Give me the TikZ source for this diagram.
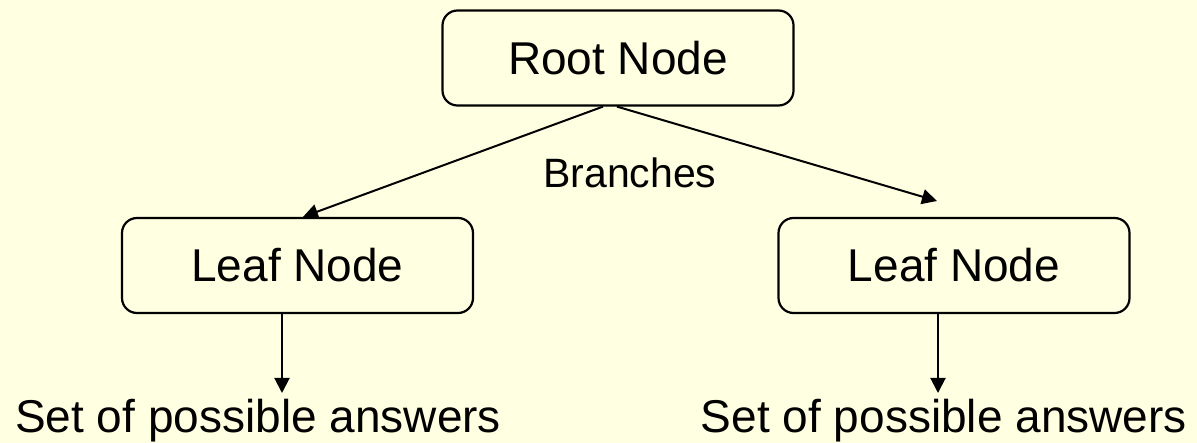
\documentclass[tikz,border=0pt]{standalone}
\usepackage{fontspec}
\setmainfont{Liberation Sans}
\usetikzlibrary{arrows.meta}
\definecolor{paper}{RGB}{255,255,225}
\tikzset{
  nodebox/.style={draw=black, line width=2.2pt, rounded corners=15pt,
    minimum width=351pt, minimum height=95pt, inner sep=0pt,
    font=\fontsize{46}{55}\selectfont},
  bigtext/.style={inner sep=0pt, font=\fontsize{46}{55}\selectfont},
  midtext/.style={inner sep=0pt, font=\fontsize{41}{49}\selectfont},
  link/.style={line width=2pt, -{Triangle[length=15pt,width=15pt]}}
}
\begin{document}
\begin{tikzpicture}[x=1pt,y=-1pt]
  % page and background
  \fill[paper] (0,0) rectangle (1197,443);
  \useasboundingbox (0,0) rectangle (1197,443);

  % tree boxes
  \node[nodebox] (root)  at (618,58)    {Root Node};
  \node[nodebox] (leafL) at (297.5,265.5) {Leaf Node};
  \node[nodebox] (leafR) at (954,265.5) {Leaf Node};

  % labels
  \node[midtext, anchor=base west] (branches) at (543,188) {Branches};
  \node[bigtext, anchor=base west] (ansL) at (15,433) {Set of possible answers};
  \node[bigtext, anchor=base east] (ansR) at (1187,433) {Set of possible answers};

  % free ends of the connectors
  \coordinate (tipR)  at (937,201);
  \coordinate (tipAL) at (282,393);
  \coordinate (tipAR) at (938,393);

  % branches from the root
  \draw[link] ([xshift=-15pt]root.south) -- ([xshift=5.5pt]leafL.north);
  \draw[link] ([xshift=-1pt]root.south) -- (tipR);

  % leaves to their answers
  \draw[link] (leafL.south -| tipAL) -- (tipAL);
  \draw[link] (leafR.south -| tipAR) -- (tipAR);
\end{tikzpicture}
\end{document}
